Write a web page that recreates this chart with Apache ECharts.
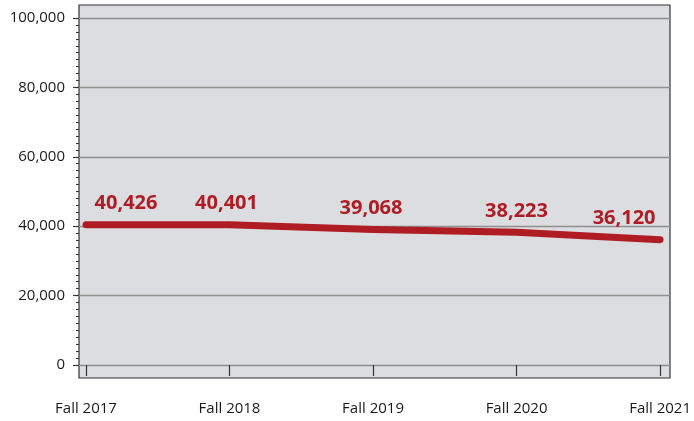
<!DOCTYPE html>
<html>
<head>
<meta charset="utf-8">
<script src="https://cdn.jsdelivr.net/npm/echarts@6/dist/echarts.min.js"></script>
<style>
html,body{margin:0;padding:0;background:#fff;}
#chart{width:694px;height:421px;}
</style>
</head>
<body>
<div id="chart"></div>
<script>
const categories = ['Fall 2017', 'Fall 2018', 'Fall 2019', 'Fall 2020', 'Fall 2021'];
const enrollment = [40426, 40401, 39068, 38223, 36120];
const yTickMin = 0;
const yTickMax = 100000;
const yTickStep = 20000;

const labelOffsets = [[40, 0], [-3, 0], [-2, 0], [0, 0], [-36, 0]];
const fmt = v => Number(v).toLocaleString('en-US');
const FONT = '"Open Sans", "Liberation Sans", sans-serif';
const RED = '#b01c24';

const chart = echarts.init(document.getElementById('chart'), null, {renderer: 'canvas'});
chart.setOption({
  animation: false,
  backgroundColor: '#ffffff',
  grid: [
    {left: 79, right: 24, top: 5, bottom: 43, show: true, backgroundColor: '#dcdde0', borderColor: '#333333', borderWidth: 1.2},
    {left: 79, right: 24, top: 18, bottom: 56, show: false},
    {left: 86, right: 31, top: 18, bottom: 56, show: false}
  ],
  xAxis: [
    {gridIndex: 0, type: 'value', show: false},
    {gridIndex: 1, type: 'value', show: false},
    {
      gridIndex: 2, type: 'category', data: categories, boundaryGap: false,
      position: 'bottom', offset: 13,
      axisLine: {show: false},
      axisTick: {show: true, length: 11, lineStyle: {color: '#333333', width: 1.2}},
      axisLabel: {margin: 23, color: '#1a1a1a', fontFamily: FONT, fontSize: 15},
      splitLine: {show: false}
    }
  ],
  yAxis: [
    {gridIndex: 0, type: 'value', show: false},
    {
      gridIndex: 1, type: 'value', min: yTickMin, max: yTickMax, interval: yTickStep,
      axisLine: {show: false},
      axisTick: {show: true, length: 6, lineStyle: {color: '#333333', width: 1.2}},
      minorTick: {show: true, splitNumber: 10, length: 3, lineStyle: {color: '#333333', width: 1}},
      axisLabel: {margin: 14, color: '#1a1a1a', fontFamily: FONT, fontSize: 15, formatter: v => fmt(v)},
      splitLine: {show: true, lineStyle: {color: '#8f8f8f', width: 1.3}}
    },
    {
      gridIndex: 2, type: 'value', min: yTickMin, max: yTickMax, interval: yTickStep, show: false
    }
  ],
  series: [{
    type: 'line',
    xAxisIndex: 2, yAxisIndex: 2,
    data: enrollment.map((v, i) => ({value: v, label: {offset: labelOffsets[i]}})),
    symbol: 'circle',
    symbolSize: 1,
    showSymbol: true,
    itemStyle: {color: RED},
    lineStyle: {color: RED, width: 7, cap: 'round', join: 'round'},
    label: {
      show: true, position: 'top', distance: 11,
      color: RED, fontFamily: FONT, fontSize: 20, fontWeight: 'bold',
      formatter: p => fmt(p.value)
    },
    z: 5
  }]
});
</script>
</body>
</html>
